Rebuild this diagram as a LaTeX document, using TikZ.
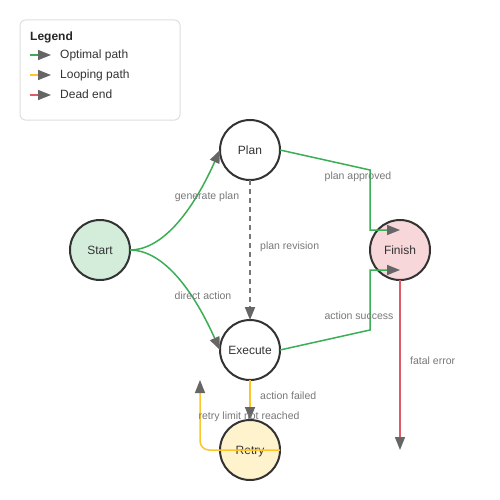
\documentclass[tikz,border=0pt]{standalone}
\usepackage{fontspec}
\setmainfont{Liberation Sans}
\usetikzlibrary{arrows.meta,calc}
\definecolor{optgreen}{HTML}{3AAD55}
\definecolor{loopyellow}{HTML}{FCC62B}
\definecolor{deadred}{HTML}{E05A68}
\definecolor{arrowgray}{HTML}{666666}
\definecolor{labelgray}{HTML}{777777}
\definecolor{nodestroke}{HTML}{333333}
\definecolor{startfill}{HTML}{D4EDDA}
\definecolor{finishfill}{HTML}{F8D7DA}
\definecolor{retryfill}{HTML}{FFF3CD}
\definecolor{legendstroke}{HTML}{DDDDDD}
\begin{document}
\begin{tikzpicture}[x=1pt,y=-1pt,
  statenode/.style={circle,draw=nodestroke,line width=2pt,minimum size=60pt,inner sep=0pt,outer sep=0pt,font=\fontsize{12}{14}\selectfont,text=nodestroke,text depth=0pt},
  tipstyle/.style={-{Triangle[length=13pt,width=10pt,color=arrowgray]}},
  optedge/.style={tipstyle,draw=optgreen,line width=1.5pt},
  loopedge/.style={tipstyle,draw=loopyellow,line width=1.5pt},
  deadedge/.style={tipstyle,draw=deadred,line width=1.5pt},
  revedge/.style={tipstyle,draw=labelgray,line width=2pt,dash pattern=on 5pt off 4pt},
  edgelabel/.style={font=\fontsize{10.5}{12}\selectfont,text=labelgray,inner sep=0pt,text depth=0pt},
  legendtext/.style={font=\fontsize{12}{14}\selectfont,text=nodestroke,inner sep=0pt,anchor=west,text depth=0pt}
]
\useasboundingbox (0,0) rectangle (500,500);
% legend
\node[draw=legendstroke,line width=1pt,rounded corners=5pt,minimum width=160pt,minimum height=100pt,inner sep=0pt,outer sep=0pt] (legend) at (100,70) {};
\node[legendtext,font=\fontsize{12}{14}\selectfont\bfseries,text=black!85] (legtitle) at (30,36) {Legend};
\coordinate (l1a) at (30,55); \coordinate (l1b) at (51,55);
\coordinate (l2a) at (30,75); \coordinate (l2b) at (51,75);
\coordinate (l3a) at (30,95); \coordinate (l3b) at (51,95);
\draw[optedge] (l1a) -- (l1b);
\draw[loopedge] (l2a) -- (l2b);
\draw[deadedge] (l3a) -- (l3b);
\node[legendtext] (leg1) at (60,54) {Optimal path};
\node[legendtext] (leg2) at (60,74) {Looping path};
\node[legendtext] (leg3) at (60,94) {Dead end};
% nodes
\node[statenode,fill=startfill] (Start) at (100,250) {Start};
\node[statenode,fill=white] (Plan) at (250,150) {Plan};
\node[statenode,fill=white] (Execute) at (250,350) {Execute};
\node[statenode,fill=finishfill] (Finish) at (400,250) {Finish};
\node[statenode,fill=retryfill] (Retry) at (250,450) {Retry};
% helper coordinates
\coordinate (pa1) at (370,170); \coordinate (pa2) at (370,230); \coordinate (fin1) at (400,230);
\coordinate (as1) at (370,330); \coordinate (as2) at (370,270); \coordinate (fin2) at (400,270);
\coordinate (loopc) at (200,450); \coordinate (loopend) at (200,380);
\coordinate (deadend) at (400,450);
% edges
\draw[optedge] (Start.east) .. controls (160,250) and (190,216.7) .. (Plan.west);
\draw[optedge] (Start.east) .. controls (160,250) and (190,283.3) .. (Execute.west);
\draw[revedge] (Plan.south) -- (Execute.north);
\draw[optedge] (Plan.east) -- (pa1) -- (pa2) -- (fin1);
\draw[optedge] (Execute.east) -- (as1) -- (as2) -- (fin2);
\draw[loopedge] (Execute.south) -- (Retry.north);
\draw[loopedge,rounded corners=9pt] (Retry.east) -- (loopc) -- (loopend);
\draw[deadedge] (Finish.south) -- (deadend);
% labels
\node[edgelabel] (lb1) at (207,196) {generate plan};
\node[edgelabel] (lb2) at (203,296) {direct action};
\node[edgelabel,anchor=west] (lb3) at (260,246) {plan revision};
\node[edgelabel] (lb4) at (358,176) {plan approved};
\node[edgelabel] (lb5) at (359,316) {action success};
\node[edgelabel,anchor=west] (lb6) at (260,396) {action failed};
\node[edgelabel] (lb7) at (249,416) {retry limit not reached};
\node[edgelabel,anchor=west] (lb8) at (410,361) {fatal error};
\end{tikzpicture}
\end{document}
